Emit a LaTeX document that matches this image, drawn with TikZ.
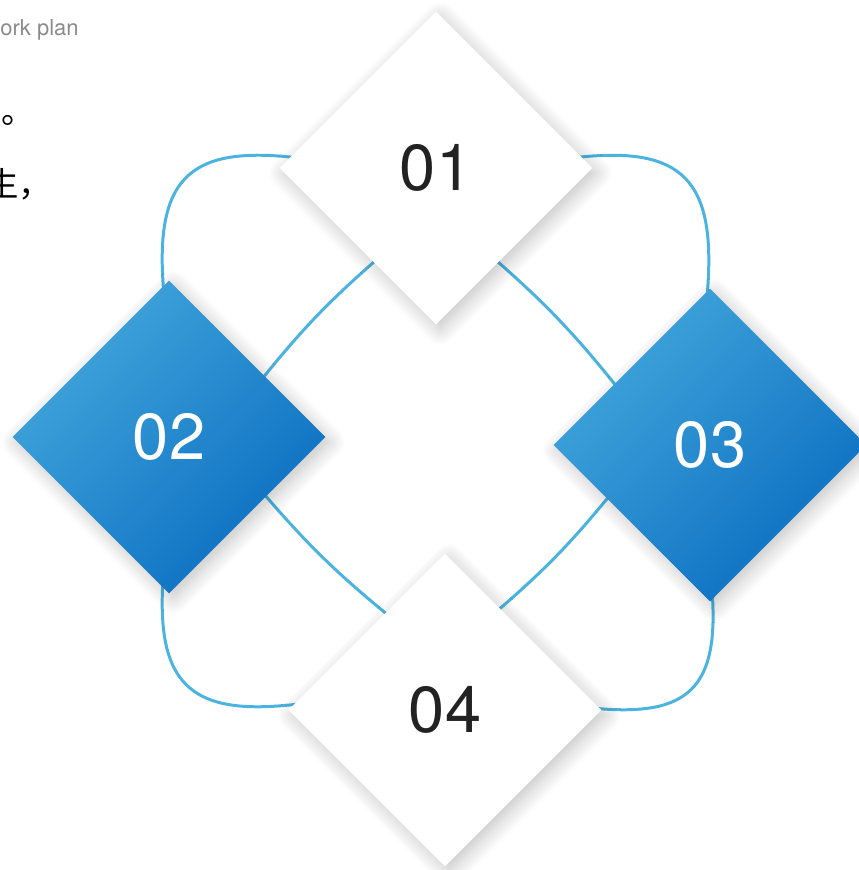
\documentclass[tikz,border=0pt]{standalone}
\usepackage{fontspec}
\setmainfont{TeX Gyre Heros}
\newfontfamily\cjk{Noto Sans CJK SC}
\usetikzlibrary{shapes.geometric,shadows.blur,calc}
\pgfdeclarelayer{bg}
\pgfsetlayers{bg,main}
\definecolor{lineblue}{HTML}{4AB3E0}
\definecolor{lightblue}{HTML}{42A6DC}
\definecolor{darkblue}{HTML}{0B6EC1}
\definecolor{numgray}{HTML}{222222}
\definecolor{capgray}{HTML}{8A8A8A}
\tikzset{
  dia/.style={diamond, aspect=1, inner sep=0pt, minimum size=6.26cm,
    font=\fontsize{37}{40}\selectfont,
    blur shadow={shadow xshift=2.5pt, shadow yshift=-3pt, shadow blur radius=9pt,
      shadow blur steps=14, shadow opacity=24}},
  whitedia/.style={dia, fill=white, text=numgray},
  bluedia/.style={dia, left color=lightblue, right color=darkblue, shading angle=45, text=white},
  ring/.style={draw=lineblue, line width=1.7pt},
  sidetext/.style={anchor=base west, inner sep=0pt},
}
\begin{document}
\begin{tikzpicture}[x=0.02cm,y=-0.02cm]
\useasboundingbox (0,0) rectangle (859,870);
\clip (0,0) rectangle (859,870);
\node[sidetext, text=capgray, font=\fontsize{12.5}{14}\selectfont] (cap) at (0,35) {ork plan};
\node[sidetext, font=\cjk\fontsize{19}{22}\selectfont] (t1) at (1,123) {。};
\node[sidetext, font=\cjk\fontsize{19}{22}\selectfont] (t2) at (-15,196) {生，};

\node[whitedia] (d1) at (436,168) {01};
\node[bluedia]  (d2) at (169,437) {02};
\node[bluedia]  (d3) at (710,445) {03};
\node[whitedia] (d4) at (445,710) {04};

\begin{pgfonlayer}{bg}
  % outer loops
  \draw[ring] ($(d1.west)+(20,-10)$) .. controls (187.5,144.5) and (153.5,178.75) .. ($(d2.north)+(-5,15)$);
  \draw[ring] ($(d1.east)+(-21,-10)$) .. controls (683.5,144.5) and (717.5,179.25) .. ($(d3.north)+(-3,9)$);
  \draw[ring] ($(d2.south)+(-5,-27)$) .. controls (153.5,683.25) and (187.5,717.5) .. ($(d4.west)+(10,-6)$);
  \draw[ring] ($(d3.south)+(2,-12)$) .. controls (719.5,688.25) and (689,717.75) .. ($(d4.east)+(-10,-2)$);
  % inner arcs
  \draw[ring] ($(d1.west)!0.61!(d1.south)!0.06!(d1.center)$) to[bend right=5] ($(d2.north)!0.62!(d2.east)!0.06!(d2.center)$);
  \draw[ring] ($(d1.east)!0.61!(d1.south)!0.06!(d1.center)$) to[bend left=5] ($(d3.north)!0.62!(d3.west)!0.06!(d3.center)$);
  \draw[ring] ($(d2.east)!0.37!(d2.south)!0.06!(d2.center)$) to[bend right=5] ($(d4.west)!0.63!(d4.north)!0.06!(d4.center)$);
  \draw[ring] ($(d3.west)!0.33!(d3.south)!0.06!(d3.center)$) to[bend left=5] ($(d4.north)!0.34!(d4.east)!0.06!(d4.center)$);
\end{pgfonlayer}
\end{tikzpicture}
\end{document}
